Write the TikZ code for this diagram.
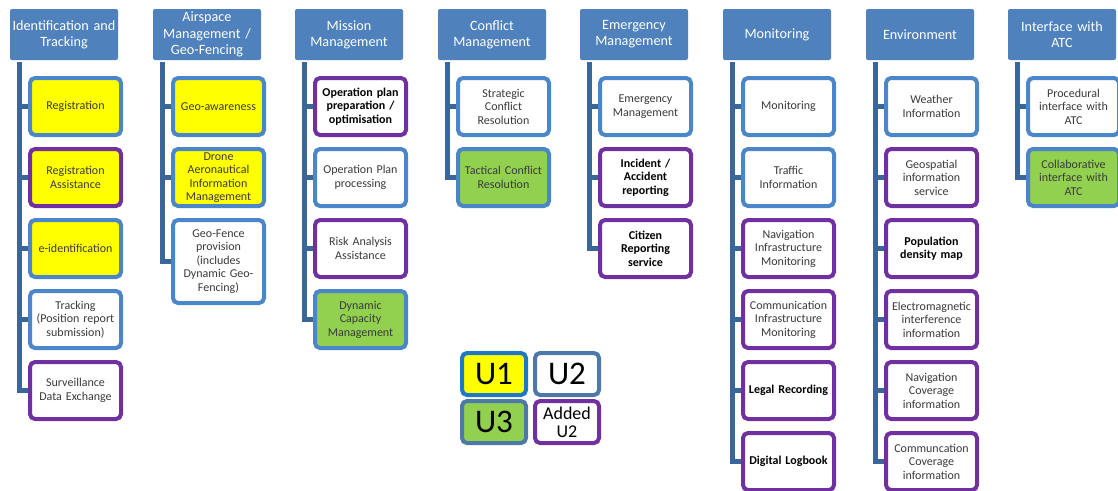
\documentclass[tikz,border=0pt]{standalone}
\usepackage{fontspec}
\setmainfont{Carlito}
\usetikzlibrary{backgrounds}
\definecolor{hdrblue}{HTML}{4F81BD}
\definecolor{boxblue}{HTML}{4A86C8}
\definecolor{trunkblue}{HTML}{3B6699}
\definecolor{addpurple}{HTML}{7030A0}
\definecolor{uyellow}{HTML}{FFFF00}
\definecolor{ugreen}{HTML}{92D050}
\definecolor{txtgray}{HTML}{3A3A3A}
\definecolor{legblue}{HTML}{1F77C8}
\definecolor{leggrey}{HTML}{4D79A8}
\tikzset{
    hdr/.style={fill=hdrblue, rounded corners=2pt, minimum width=108pt, minimum height=51pt,
        text width=107pt, align=center, inner sep=0.5pt, text=white,
        font=\fontsize{14.2}{16.2}\selectfont},
    sub/.style={draw=boxblue, line width=4pt, rounded corners=5pt, fill=white,
        minimum width=91pt, minimum height=57pt, text width=88pt, align=center,
        inner sep=0pt, text=txtgray, font=\fontsize{12}{13.5}\selectfont},
    added/.style={draw=addpurple},
    yel/.style={fill=uyellow},
    grn/.style={fill=ugreen},
    strong/.style={text=black, font=\fontsize{12}{13.5}\selectfont\bfseries},
    trunk/.style={draw=trunkblue, line width=5pt},
    legbox/.style={line width=4pt, rounded corners=5pt, minimum width=64pt, minimum height=42pt,
        inner sep=0pt, align=center, text=black}
}

\begin{document}
\begin{tikzpicture}[x=1pt,y=-1pt]
    \useasboundingbox (0,0) rectangle (1118,490);
    % headers
    \node[hdr] (idt) at (64,34.5) {Identification and\\Tracking};
    \node[hdr] (asm) at (207,34.5) {Airspace\\Management /\\Geo-Fencing};
    \node[hdr] (msn) at (349,34.5) {Mission\\Management};
    \node[hdr] (cfl) at (492,34.5) {Conflict\\Management};
    \node[hdr] (emg) at (634,34.5) {Emergency\\Management};
    \node[hdr] (mon) at (777,34.5) {Monitoring};
    \node[hdr] (env) at (920,34.5) {Environment};
    \node[hdr] (atc) at (1062,34.5) {Interface with\\ATC};

    % identification and tracking
    \node[sub,yel] (idt1) at (75.5,106.5) {Registration};
    \node[sub,yel,added] (idt2) at (75.5,177.5) {Registration\\Assistance};
    \node[sub,yel] (idt3) at (75.5,248.5) {e-identification};
    \node[sub] (idt4) at (75.5,319.5) {Tracking\\(Position report\\submission)};
    \node[sub,added] (idt5) at (75.5,390.5) {Surveillance\\Data Exchange};

    % airspace management
    \node[sub,yel] (asm1) at (218.5,106.5) {Geo-awareness};
    \node[sub,yel] (asm2) at (218.5,177.5) {Drone\\Aeronautical\\Information\\Management};
    \node[sub,minimum height=83pt] (asm3) at (218.5,261.5) {Geo-Fence\\provision\\(includes\\Dynamic Geo-\\Fencing)};

    % mission management
    \node[sub,added,strong] (msn1) at (360.5,106.5) {Operation plan\\preparation /\\optimisation};
    \node[sub] (msn2) at (360.5,177.5) {Operation Plan\\processing};
    \node[sub,added] (msn3) at (360.5,248.5) {Risk Analysis\\Assistance};
    \node[sub,grn] (msn4) at (360.5,319.5) {Dynamic\\Capacity\\Management};

    % conflict management
    \node[sub] (cfl1) at (503.5,106.5) {Strategic\\Conflict\\Resolution};
    \node[sub,grn] (cfl2) at (503.5,177.5) {Tactical Conflict\\Resolution};

    % emergency management
    \node[sub] (emg1) at (645.5,106.5) {Emergency\\Management};
    \node[sub,added,strong] (emg2) at (645.5,177.5) {Incident /\\Accident\\reporting};
    \node[sub,added,strong] (emg3) at (645.5,248.5) {Citizen\\Reporting\\service};

    % monitoring
    \node[sub] (mon1) at (788.5,106.5) {Monitoring};
    \node[sub] (mon2) at (788.5,177.5) {Traffic\\Information};
    \node[sub,added] (mon3) at (788.5,248.5) {Navigation\\Infrastructure\\Monitoring};
    \node[sub,added] (mon4) at (788.5,319.5) {Communication\\Infrastructure\\Monitoring};
    \node[sub,added,strong] (mon5) at (788.5,390.5) {Legal Recording};
    \node[sub,added,strong] (mon6) at (788.5,461.5) {Digital Logbook};

    % environment
    \node[sub] (env1) at (931.5,106.5) {Weather\\Information};
    \node[sub,added] (env2) at (931.5,177.5) {Geospatial\\information\\service};
    \node[sub,added,strong] (env3) at (931.5,248.5) {Population\\density map};
    \node[sub,added] (env4) at (931.5,319.5) {Electromagnetic\\interference\\information};
    \node[sub,added] (env5) at (931.5,390.5) {Navigation\\Coverage\\information};
    \node[sub,added] (env6) at (931.5,461.5) {Communcation\\Coverage\\information};

    % interface with atc
    \node[sub] (atc1) at (1073.5,106.5) {Procedural\\interface with\\ATC};
    \node[sub,grn] (atc2) at (1073.5,177.5) {Collaborative\\interface with\\ATC};

    % trunks
    \begin{scope}[on background layer]
        \foreach \h/\n in {idt/5,asm/3,msn/4,cfl/2,emg/3,mon/6,env/6,atc/2}
            \foreach \i in {1,...,\n}
                \draw[trunk] ([xshift=9.5pt,yshift=-2pt]\h.south west) |- (\h\i.west);
    \end{scope}

    % legend
    \node[legbox,draw=legblue,fill=uyellow,font=\fontsize{33}{33}\selectfont] (lu1) at (494,374) {U1};
    \node[legbox,draw=leggrey,fill=white,font=\fontsize{33}{33}\selectfont] (lu2) at (567,374) {U2};
    \node[legbox,draw=leggrey,fill=ugreen,font=\fontsize{33}{33}\selectfont] (lu3) at (494,422) {U3};
    \node[legbox,draw=addpurple,fill=white,font=\fontsize{18}{18}\selectfont] (lad) at (567,422) {Added\\U2};
\end{tikzpicture}
\end{document}
